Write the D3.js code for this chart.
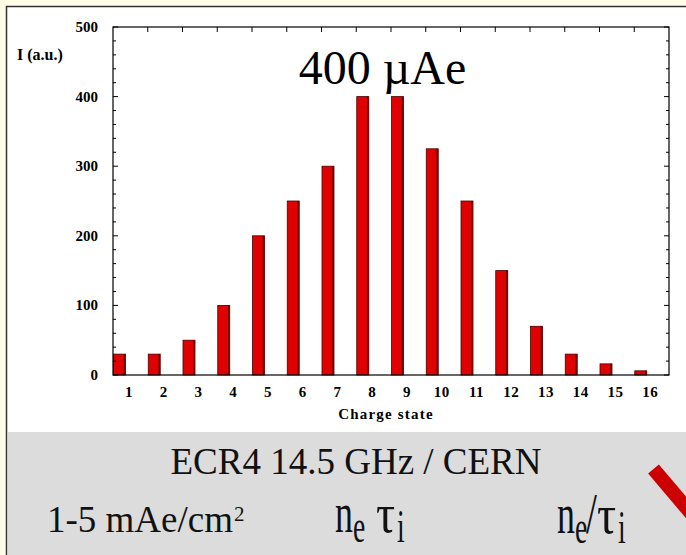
<!DOCTYPE html>
<html>
<head>
<script src="https://cdn.jsdelivr.net/npm/d3@7"></script>
<style>
  body { margin: 0; background: #fffce8; }
  svg { display: block; }
</style>
</head>
<body>
<div id="chart"></div>
<script>
// data
const chargeStates = [1, 2, 3, 4, 5, 6, 7, 8, 9, 10, 11, 12, 13, 14, 15, 16];
const intensity = [30, 30, 50, 100, 200, 250, 300, 400, 400, 325, 250, 150, 70, 30, 16, 6];
const yTicks = [0, 100, 200, 300, 400, 500];

const W = 686, H = 555;
const plot = {left: 113, right: 669, top: 27, bottom: 375};

const svg = d3.select("#chart").append("svg")
    .attr("width", W).attr("height", H)
    .style("font-family", '"Liberation Serif", "Times New Roman", serif');

// slide frame
svg.append("rect").attr("x", 0).attr("y", 0).attr("width", W).attr("height", H).attr("fill", "#fffce8");
svg.append("rect").attr("x", 7).attr("y", 7).attr("width", W - 7).attr("height", H - 7).attr("fill", "#fff");
svg.append("line").attr("x1", 6).attr("x2", W).attr("y1", 6.5).attr("y2", 6.5).attr("stroke", "#333").attr("stroke-width", 1.5);
svg.append("line").attr("x1", 6.5).attr("x2", 6.5).attr("y1", 6).attr("y2", H).attr("stroke", "#333").attr("stroke-width", 1.5);
svg.append("rect").attr("x", 8).attr("y", 432).attr("width", W - 8).attr("height", H - 432).attr("fill", "#dcdcdc");

// scales
const x = d3.scaleBand().domain(chargeStates).range([plot.left, plot.right]).padding(0);
const y = d3.scaleLinear().domain([0, 500]).range([plot.bottom, plot.top]);

const g = svg.append("g");

// bars, sitting at the left of each band
const barW = 12;
g.selectAll("rect.bar").data(chargeStates).enter().append("rect")
    .attr("class", "bar")
    .attr("x", d => x(d) + 0.5)
    .attr("y", (d, i) => y(intensity[i]))
    .attr("width", barW)
    .attr("height", (d, i) => y(0) - y(intensity[i]))
    .attr("fill", "#e00000")
    .attr("stroke", "#4a0000")
    .attr("stroke-width", 0.8);
// darker right edge
g.selectAll("line.edge").data(chargeStates).enter().append("line")
    .attr("x1", d => x(d) + barW - 0.5).attr("x2", d => x(d) + barW - 0.5)
    .attr("y1", (d, i) => y(intensity[i])).attr("y2", y(0))
    .attr("stroke", "#700000").attr("stroke-width", 1.5);

// frame
g.append("rect").attr("x", plot.left).attr("y", plot.top)
    .attr("width", plot.right - plot.left).attr("height", plot.bottom - plot.top)
    .attr("fill", "none").attr("stroke", "#000").attr("stroke-width", 1.2);

// y ticks inside, left and right
d3.range(0, 501, 20).forEach(v => {
  const len = v % 100 === 0 ? 5 : 3;
  g.append("line").attr("x1", plot.left).attr("x2", plot.left + len)
      .attr("y1", y(v)).attr("y2", y(v)).attr("stroke", "#000").attr("stroke-width", 1);
  g.append("line").attr("x1", plot.right).attr("x2", plot.right - len)
      .attr("y1", y(v)).attr("y2", y(v)).attr("stroke", "#000").attr("stroke-width", 1);
});
// x ticks at band boundaries, top only
chargeStates.slice(1).forEach(d => {
  g.append("line").attr("x1", x(d)).attr("x2", x(d))
      .attr("y1", plot.top).attr("y2", plot.top + 5).attr("stroke", "#000");
});

// tick labels
g.selectAll("text.ylab").data(yTicks).enter().append("text")
    .attr("x", 98).attr("y", d => y(d) + 5)
    .attr("text-anchor", "end")
    .attr("font-weight", "bold").attr("font-size", 15)
    .text(d => d);
g.selectAll("text.xlab").data(chargeStates).enter().append("text")
    .attr("x", d => x(d) + x.bandwidth() / 2 - 1.4).attr("y", 396.5)
    .attr("text-anchor", "middle")
    .attr("font-weight", "bold").attr("font-size", 15)
    .attr("letter-spacing", 0.5)
    .text(d => d);

svg.append("text").attr("x", 17).attr("y", 60)
    .attr("font-weight", "bold").attr("font-size", 16)
    .text("I (a.u.)");
svg.append("text").attr("x", 386).attr("y", 419).attr("text-anchor", "middle")
    .attr("font-weight", "bold").attr("font-size", 15)
    .attr("letter-spacing", 1.2)
    .text("Charge state");

svg.append("text").attr("x", 382.5).attr("y", 84).attr("text-anchor", "middle")
    .attr("font-size", 48)
    .text("400 \u00b5Ae");

// bottom captions
const cap = svg.append("g").attr("fill", "#111");
cap.append("text").attr("x", 356).attr("y", 474).attr("text-anchor", "middle")
    .attr("font-size", 37).text("ECR4 14.5 GHz / CERN");
const t1 = cap.append("text").attr("x", 47).attr("y", 531.5).attr("font-size", 37);
t1.append("tspan").text("1-5 mAe/cm");
t1.append("tspan").attr("font-size", 21).attr("dx", 1).attr("dy", -11).text("2");

// tall, narrow glyphs: big font squeezed horizontally
function squeezed(parts) {
  parts.forEach(p => {
    cap.append("text")
        .attr("transform", `translate(${p.x},${p.y}) scale(${p.sx},1)`)
        .attr("font-size", p.size)
        .text(p.t);
  });
}
squeezed([
  {t: "n", x: 335, y: 532, size: 56, sx: 0.64},
  {t: "e", x: 353, y: 542, size: 46, sx: 0.6},
  {t: "\u03c4", x: 376, y: 532, size: 56, sx: 0.85},
  {t: "i", x: 397, y: 542, size: 46, sx: 0.6},
  {t: "n", x: 557, y: 533, size: 56, sx: 0.64},
  {t: "e", x: 575, y: 543, size: 46, sx: 0.6},
  {t: "/", x: 586, y: 533, size: 56, sx: 0.7},
  {t: "\u03c4", x: 597, y: 533, size: 56, sx: 0.85},
  {t: "i", x: 618, y: 543, size: 46, sx: 0.6}
]);

// red slash
svg.append("line").attr("x1", 653.5).attr("y1", 469).attr("x2", 700).attr("y2", 524)
    .attr("stroke", "#cc0000").attr("stroke-width", 14);
</script>
</body>
</html>
